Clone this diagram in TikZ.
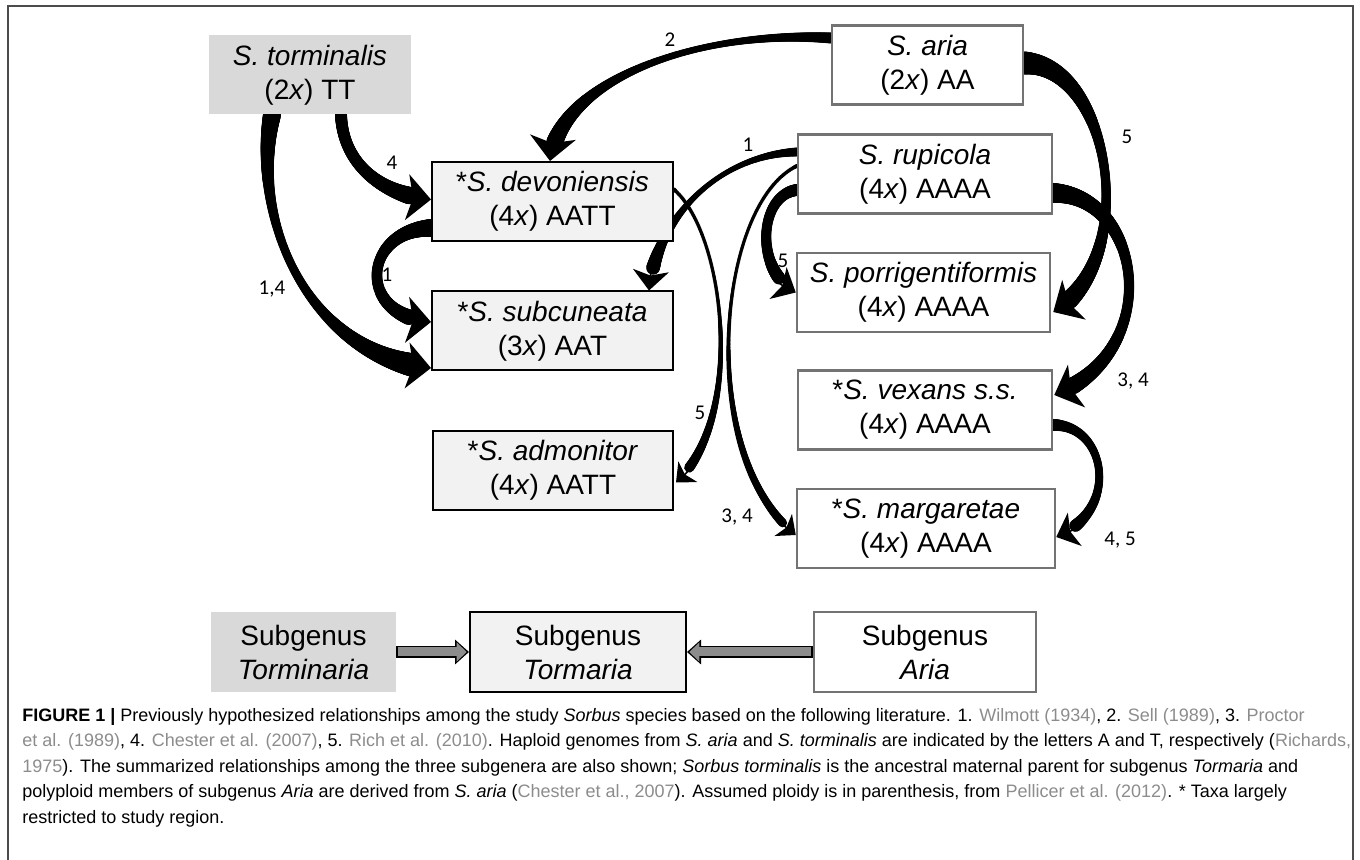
\documentclass[tikz,border=0pt]{standalone}
\usepackage{fontspec}
\setmainfont{Liberation Sans}
\newfontfamily\numfont{Carlito}
\usetikzlibrary{arrows.meta,decorations.markings,backgrounds,calc}
\definecolor{linkgray}{HTML}{8C8C8C}
\definecolor{boxlight}{HTML}{F2F2F2}
\definecolor{boxgray}{HTML}{D9D9D9}
\newcommand\lnk[1]{\textcolor{linkgray}{#1}}

\tikzset{
  % tapered band along a curve: width at start, middle, end (px)
  crescent/.style n args={3}{
    postaction={decorate, decoration={markings,
      mark=between positions 0 and -11pt step 0.4pt with {
        \pgfmathsetmacro\bandt{\pgfkeysvalueof{/pgf/decoration/mark info/distance from start}/\pgfdecoratedpathlength}
        \pgfmathsetmacro\bandw{0.25*(#2+(#1-#2)*(1-\bandt)^3+(#3-#2)*\bandt^3)}
        \fill (0,0) circle[radius=\bandw pt];
      }}}},
  bigtip/.style={line width=0.8pt, -{Stealth[length=12pt,width=23pt,inset=3pt]}},
  midtip/.style={line width=0.8pt, -{Stealth[length=10pt,width=18pt,inset=2.5pt]}},
  smalltip/.style={line width=0.8pt, -{Stealth[length=8pt,width=14pt,inset=2pt]}},
}

\begin{document}
\begin{tikzpicture}
    [
    x=0.5pt, y=-0.5pt,
    taxon/.style = {rectangle, align=center, inner sep=0pt, minimum height=39.5pt, font=\fontsize{14}{17}\selectfont},
    hybrid/.style = {taxon, draw=black, line width=1pt, fill=boxlight},
    ariabox/.style = {taxon, draw=black!55, line width=1.25pt, fill=white},
    torbox/.style = {taxon, fill=boxgray},
    lbl/.style = {font=\numfont\fontsize{10.5}{12}\selectfont},
    subarrow/.style = {line width=6pt, -{Triangle[length=7pt,width=12pt]},
      postaction={draw=black!45, line width=4.5pt, -{Triangle[length=5pt,width=9.3pt]}, shorten >=1.15pt, shorten <=0.75pt}},
    caption/.style = {anchor=base west, inner sep=0pt, font=\fontsize{9}{12.75}\selectfont},
    frame/.style = {draw=black!70, line width=0.75pt}
    ]
\useasboundingbox (0,0) rectangle (1360,860);
\draw[frame] (8,860) -- (8,6) -- (1353,6) -- (1353,860);

% Nodes
    \node[torbox, minimum width=101pt] (torm) at (310,75) {\textit{S. torminalis}\\(2\textit{x}) TT};
    \node[hybrid, minimum width=120.5pt] (devon) at (552.5,201.5) {*\textit{S. devoniensis}\\(4\textit{x}) AATT};
    \node[hybrid, minimum width=120.5pt] (subc) at (552.5,331) {*\textit{S. subcuneata}\\(3\textit{x}) AAT};
    \node[hybrid, minimum width=120pt] (admon) at (553,470.5) {*\textit{S. admonitor}\\(4\textit{x}) AATT};
    \node[ariabox, minimum width=95.5pt] (aria) at (927.5,65) {\textit{S. aria}\\(2\textit{x}) AA};
    \node[ariabox, minimum width=127pt] (rup) at (925,174) {\textit{S. rupicola}\\(4\textit{x}) AAAA};
    \node[ariabox, minimum width=126.5pt] (porr) at (923.5,292.5) {\textit{S. porrigentiformis}\\(4\textit{x}) AAAA};
    \node[ariabox, minimum width=127pt] (vex) at (925,410) {*\textit{S. vexans s.s.}\\(4\textit{x}) AAAA};
    \node[ariabox, minimum width=129pt] (marg) at (926,528.5) {*\textit{S. margaretae}\\(4\textit{x}) AAAA};

    \node[torbox, minimum width=92.5pt, minimum height=40pt] (sgtmn) at (303.5,652) {Subgenus\\\textit{Torminaria}};
    \node[hybrid, minimum width=108pt, minimum height=40pt] (sgtma) at (578,652) {Subgenus\\\textit{Tormaria}};
    \node[ariabox, minimum width=111pt, minimum height=40pt] (sgaria) at (925,652) {Subgenus\\\textit{Aria}};

% Arrows
\begin{scope}[on background layer]
    \draw[bigtip, crescent={11}{4}{20}] ($(aria.west)+(0,-27)$) .. controls +(-132,-8) and +(10,-82) .. ($(devon.north)+(-2.5,0)$);
    \draw[bigtip, crescent={12}{11}{22}] ($(torm.south)+(31,0)$) .. controls +(2,51) and +(-47,-4.5) .. ($(devon.west)+(0,-2)$);
    \draw[bigtip, crescent={18}{4}{28}] ($(torm.south)+(-38,0)$) .. controls +(-22,106) and +(-122,-13) .. ($(subc.west)+(0,37)$);
    \draw[bigtip, crescent={18}{8}{20}] ($(devon.west)+(0,26.5)$) .. controls +(-67,2) and +(-77,-7) .. ($(subc.west)+(0,-9)$);
    \draw[midtip, crescent={9}{3}{18}] ($(rup.west)+(0,-22)$) .. controls +(-78,3) and +(7,-72) .. ($(subc.north east)+(-25,0)$);
    \draw[smalltip, crescent={4}{3}{12}] ($(devon.east)+(0,-12)$) .. controls +(52,45.5) and +(69,-63) .. ($(admon.east)+(2,12)$);
    \draw[midtip, crescent={12}{9}{16}] ($(rup.west)+(0,16)$) .. controls +(-38,5) and +(-42,-22.5) .. (porr.west);
    \draw[bigtip, crescent={23}{5}{22}] ($(aria.east)+(0,-2)$) .. controls +(87,2) and +(88,-52) .. ($(porr.east)+(2,19.5)$);
    \draw[bigtip, crescent={20}{7}{20}] ($(rup.east)+(0,19)$) .. controls +(88,2) and +(112,-45) .. ($(vex.east)+(1,-15)$);
    \draw[midtip, crescent={12}{6}{16}] ($(vex.east)+(0,15)$) .. controls +(53,0) and +(65,-27) .. ($(marg.east)+(0,8.5)$);
    \draw[smalltip, crescent={4}{3}{10}] ($(rup.west)+(0,-8)$) .. controls +(-82,40) and +(-98,-78) .. ($(marg.west)+(0,6.5)$);
\end{scope}
    \draw[subarrow] (sgtmn.east) -- (sgtma.west);
    \draw[subarrow] (sgaria.west) -- (sgtma.east);

% Labels
    \node[lbl] (l2) at (670,40) {2};
    \node[lbl] (l4) at (392,163) {4};
    \node[lbl] (l14) at (272,289) {1,4};
    \node[lbl] (l1a) at (387,275) {1};
    \node[lbl] (l1b) at (748,145) {1};
    \node[lbl] (l5a) at (700,413) {5};
    \node[lbl] (l5b) at (783,261) {5};
    \node[lbl] (l5c) at (1127,137) {5};
    \node[lbl] (l34a) at (1133,381) {3, 4};
    \node[lbl] (l45) at (1120,540) {4, 5};
    \node[lbl] (l34b) at (737,517) {3, 4};

% Caption
    \node[caption] (cap1) at (22,721) {\textbf{FIGURE 1 |} Previously hypothesized relationships among the study \textit{Sorbus} species based on the following literature. 1. \lnk{Wilmott (1934)}, 2. \lnk{Sell (1989)}, 3. \lnk{Proctor}};
    \node[caption] (cap2) at (22,746.5) {\lnk{et al. (1989)}, 4. \lnk{Chester et al. (2007)}, 5. \lnk{Rich et al. (2010)}. Haploid genomes from \textit{S. aria} and \textit{S. torminalis} are indicated by the letters A and T, respectively (\lnk{Richards,}};
    \node[caption] (cap3) at (22,772) {\lnk{1975}). The summarized relationships among the three subgenera are also shown; \textit{Sorbus torminalis} is the ancestral maternal parent for subgenus \textit{Tormaria} and};
    \node[caption] (cap4) at (22,797.5) {polyploid members of subgenus \textit{Aria} are derived from \textit{S. aria} (\lnk{Chester et al., 2007}). Assumed ploidy is in parenthesis, from \lnk{Pellicer et al. (2012)}. * Taxa largely};
    \node[caption] (cap5) at (22,823) {restricted to study region.};

\end{tikzpicture}
\end{document}
